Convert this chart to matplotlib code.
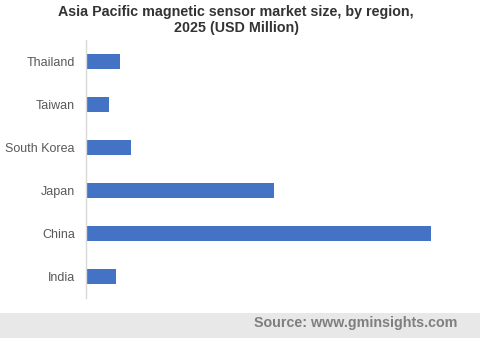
import matplotlib
matplotlib.use("Agg")
import matplotlib.pyplot as plt
from matplotlib.patches import Rectangle

##data (no scale shown, so values are relative lengths)
regions = ["India", "China", "Japan", "South Korea", "Taiwan", "Thailand"]
market_size = [30, 345, 188, 45, 23, 34]

plt.rcParams["font.family"] = ["Liberation Sans", "DejaVu Sans"]

fig = plt.figure(figsize=(4.8, 3.38), dpi=100)

##footer band
fig.patches.append(Rectangle((0, 0), 1, 25 / 338, transform=fig.transFigure,
                             facecolor="#e8e8e8", edgecolor="none", zorder=0))
fig.text(457 / 480, 1 - 323 / 338, "Source: www.gminsights.com", ha="right", va="center",
         fontsize=10.3, fontweight="bold", color="#7f7f7f")

##title
fig.text(236 / 480, 1 - 20 / 338, "Asia Pacific magnetic sensor market size, by region,\n2025 (USD Million)",
         ha="center", va="center", fontsize=10.3, fontweight="bold", color="#333333",
         linespacing=1.25)

ax = fig.add_axes([86 / 480, 1 - 298 / 338, 380 / 480, 258 / 338])
ax.barh(range(len(regions)), market_size, height=0.35, color="#4472C4")
ax.set_yticks(range(len(regions)))
ax.set_yticklabels(regions, fontsize=9, color="#595959")
ax.set_ylim(-0.5, len(regions) - 0.5)
ax.set_xlim(0, 380)
ax.set_xticks([])
ax.tick_params(axis="y", length=0, pad=8)
for side in ["top", "right", "bottom"]:
    ax.spines[side].set_visible(False)
ax.spines["left"].set_color("#d9d9d9")
ax.spines["left"].set_linewidth(1)

plt.savefig("out.png", dpi=100)
